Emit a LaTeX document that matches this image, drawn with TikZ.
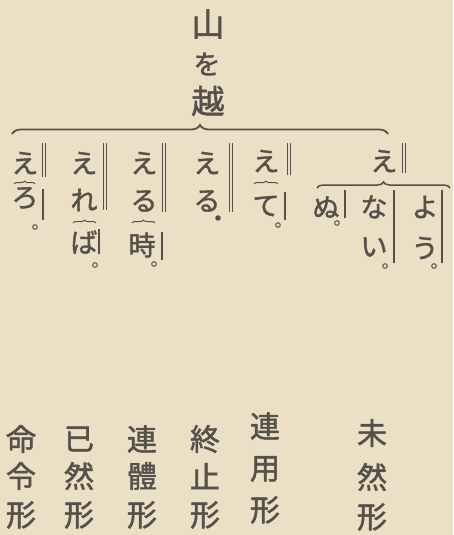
\documentclass[tikz,border=0pt]{standalone}
\usepackage{fontspec}
\newfontfamily\jp[FakeBold=1.6]{Noto Sans CJK JP}
\usetikzlibrary{decorations.pathreplacing}
\definecolor{paper}{HTML}{EBDFC5}
\definecolor{ink}{HTML}{55504A}
\begin{document}
\begin{tikzpicture}[x=1pt,y=-1pt,
  kana/.style={font=\jp\fontsize{27}{27}\selectfont, text=ink, inner sep=0pt},
  kanji/.style={font=\jp\fontsize{30}{30}\selectfont, text=ink, inner sep=0pt},
  ttl/.style={font=\jp\fontsize{33}{33}\selectfont, text=ink, inner sep=0pt},
  wo/.style={font=\jp\fontsize{27}{27}\selectfont, text=ink, inner sep=0pt},
  bar/.style={draw=ink, line width=0.8pt},
  sbar/.style={draw=ink, line width=2pt},
  thinbar/.style={draw=ink, line width=1.2pt},
  bigbrace/.style={decorate, decoration={brace, amplitude=9pt}, draw=ink, line width=1.8pt},
  midbrace/.style={decorate, decoration={brace, amplitude=6pt}, draw=ink, line width=1.5pt},
  smallbrace/.style={decorate, decoration={brace, amplitude=3pt}, draw=ink, line width=1pt},
  ring/.style={draw=ink, line width=1pt},
  dotfill/.style={fill=ink}
]
\fill[paper] (0,0) rectangle (453,535);
\useasboundingbox (0,0) rectangle (453,535);

% title
\node[ttl] (yama) at (208,24) {山};
\node[wo] (wo) at (207,64) {を};
\node[ttl] (koe) at (208,101) {越};
\draw[bigbrace] (12,134) -- (388,134);

% column 1: 命令形
\node[kana] (e1) at (25,163) {え};
\draw[bar] (42,143) -- (42,177) (45,143) -- (45,177);
\draw[smallbrace] (14,184) -- (35,184);
\node[kana] (ro) at (25,198) {ろ};
\draw[sbar] (43,189) -- (43,220);
\draw[ring] (35,227) circle (2.3pt);

% column 2: 已然形
\node[kana] (e2) at (84,163) {え};
\draw[bar] (103,143) -- (103,210) (106,143) -- (106,210);
\node[kana] (re) at (84,200) {れ};
\draw[smallbrace] (73,223) -- (96,223);
\node[kana] (ba) at (84,242) {ば};
\draw[sbar] (99,229) -- (99,254);
\draw[ring] (95,265) circle (2.3pt);

% column 3: 連體形
\node[kana] (e3) at (144,163) {え};
\draw[bar] (162,143) -- (162,212) (165,143) -- (165,212);
\node[kana] (ru3) at (144,201) {る};
\draw[smallbrace] (132,223) -- (155,223);
\node[kana] (toki) at (142,245) {時};
\draw[sbar] (162,232) -- (162,260);
\draw[ring] (154,264) circle (2.3pt);

% column 4: 終止形
\node[kana] (e4) at (207,163) {え};
\draw[bar] (229,143) -- (229,212) (232,143) -- (232,212);
\node[kana] (ru4) at (207,201) {る};
\fill[dotfill] (218,218) circle (2.8pt);

% column 5: 連用形
\node[kana] (e5) at (266,161) {え};
\draw[bar] (287,143) -- (287,175) (290,143) -- (290,175);
\draw[smallbrace] (254,184) -- (278,184);
\node[kana] (te) at (266,206) {て};
\draw[sbar] (285,192) -- (285,220);
\draw[ring] (278,225) circle (2.3pt);

% column 6: 未然形
\node[kana] (e6) at (384,161) {え};
\draw[bar] (402,143) -- (402,173) (405,143) -- (405,173);
\draw[midbrace] (317,188) -- (450,188);
\node[kana] (nu) at (326,207) {ぬ};
\draw[sbar] (345,190) -- (345,218);
\draw[ring] (337,223) circle (2.3pt);
\node[kana] (na) at (374,207) {な};
\node[kana] (i) at (374,247) {い};
\draw[thinbar] (394,190) -- (394,263);
\draw[ring] (385,266) circle (2.3pt);
\node[kana] (yo) at (425,207) {よ};
\node[kana] (u) at (425,248) {う};
\draw[thinbar] (442,190) -- (442,263);
\draw[ring] (434,266) circle (2.3pt);

% bottom labels
\node[kanji] (m1) at (21,439) {命};
\node[kanji] (m2) at (21,476) {令};
\node[kanji] (m3) at (21,515) {形};
\node[kanji] (k1) at (79,439) {已};
\node[kanji] (k2) at (79,476) {然};
\node[kanji] (k3) at (79,515) {形};
\node[kanji] (t1) at (142,439) {連};
\node[kanji] (t2) at (142,476) {體};
\node[kanji] (t3) at (142,515) {形};
\node[kanji] (s1) at (205,439) {終};
\node[kanji] (s2) at (205,476) {止};
\node[kanji] (s3) at (205,515) {形};
\node[kanji] (r1) at (265,426) {連};
\node[kanji] (r2) at (265,469) {用};
\node[kanji] (r3) at (265,510) {形};
\node[kanji] (z1) at (372,433) {未};
\node[kanji] (z2) at (372,477) {然};
\node[kanji] (z3) at (372,517) {形};
\end{tikzpicture}
\end{document}
